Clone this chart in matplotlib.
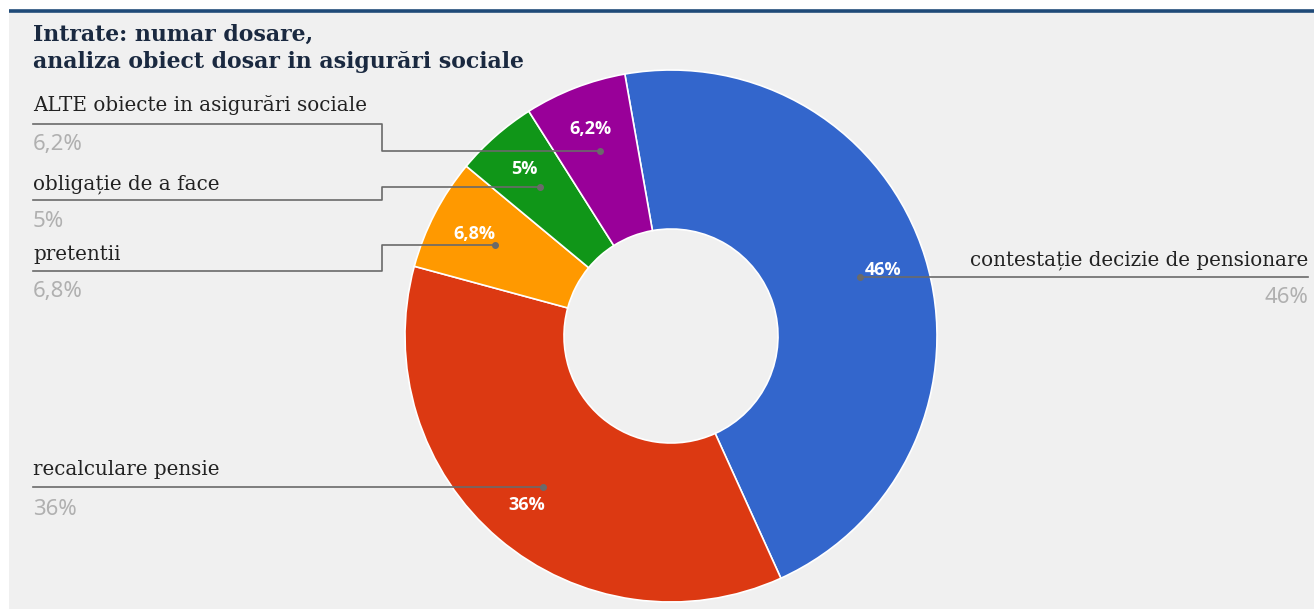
import matplotlib
matplotlib.use("Agg")
import matplotlib.pyplot as plt
import numpy as np

# ---- data ----
categories = ["contestație decizie de pensionare", "recalculare pensie", "pretentii",
              "obligație de a face", "ALTE obiecte in asigurări sociale"]
values = [46.0, 36.0, 6.8, 5.0, 6.2]
value_labels = ["46%", "36%", "6,8%", "5%", "6,2%"]
colors = ["#3366cc", "#dc3912", "#ff9900", "#109618", "#990099"]
title_lines = ["Intrate: numar dosare,", "analiza obiect dosar in asigurări sociale"]

W, H = 1316, 609
fig = plt.figure(figsize=(W / 100, H / 100), dpi=100)
fig.patch.set_facecolor("white")
ax = fig.add_axes([0, 0, 1, 1])

def Y(y):
    return H - y

cx, cy, R, r_in = 671, Y(336), 266, 107
wedges, texts, autotexts = ax.pie(
    values, colors=colors, startangle=100, counterclock=False,
    center=(cx, cy), radius=R,
    wedgeprops=dict(width=R - r_in, edgecolor="white", linewidth=1.2),
    autopct=lambda p: "", pctdistance=222 / R, frame=True)
ax.set_xlim(0, W)
ax.set_ylim(0, H)
ax.set_aspect("equal")
ax.axis("off")

# background panel and top rule
ax.add_patch(plt.Rectangle((9, 0), 1305, Y(10), facecolor="#f0f0f0", edgecolor="none", zorder=-5))
ax.plot([9, 1314], [Y(10.5), Y(10.5)], color="#1f4a78", lw=2.6, zorder=1, solid_capstyle="butt")

# title
title_kw = dict(fontsize=15.8, fontweight="bold", family="DejaVu Serif", color="#1a2940", va="baseline")
ax.text(33, Y(41), title_lines[0], **title_kw)
ax.text(33, Y(68), title_lines[1], **title_kw)

for w, lab, at in zip(wedges, value_labels, autotexts):
    at.set_text(lab)
    at.set_color("white")
    at.set_fontsize(13)
    at.set_fontweight("bold")
    at.set_family("Open Sans")

# leader dots at mid angle of each wedge
dots = []
for w in wedges:
    th = np.deg2rad((w.theta1 + w.theta2) / 2)
    dots.append((cx + 198 * np.cos(th), cy + 198 * np.sin(th)))

line_col = "#6a6a6a"
lab_kw = dict(fontsize=14.3, family="DejaVu Serif", color="#222222", va="baseline")
pct_kw = dict(fontsize=16, family="Noto Sans", color="#b0b0b0", va="baseline")

# left side labels: (index, label baseline y, underline y, pct baseline y)
left = [(4, 111, 123.5, 150), (3, 189, 199.5, 227), (2, 260, 270.5, 297)]
for idx, ly, uy, py in left:
    dx, dy = dots[idx]
    ax.text(33, Y(ly), categories[idx], **lab_kw)
    ax.text(33, Y(py), value_labels[idx], **pct_kw)
    ax.plot([33, 382, 382, dx], [Y(uy), Y(uy), dy, dy], color=line_col, lw=1.2, zorder=3)
    ax.plot([dx], [dy], "o", ms=4, color=line_col, zorder=4)

# recalculare: straight line at dot height
dx, dy = dots[1]
ax.text(33, dy + 12, categories[1], **lab_kw)
ax.text(33, dy - 28, value_labels[1], **pct_kw)
ax.plot([33, dx], [dy, dy], color=line_col, lw=1.2, zorder=3)
ax.plot([dx], [dy], "o", ms=4, color=line_col, zorder=4)

# right label
dx, dy = dots[0]
ax.text(1308, dy + 12, categories[0], ha="right", **lab_kw)
ax.text(1308, dy - 26, value_labels[0], ha="right", **pct_kw)
ax.plot([dx, 1308], [dy, dy], color=line_col, lw=1.2, zorder=3)
ax.plot([dx], [dy], "o", ms=4, color=line_col, zorder=4)

fig.savefig("out.png", dpi=100, facecolor="white")
